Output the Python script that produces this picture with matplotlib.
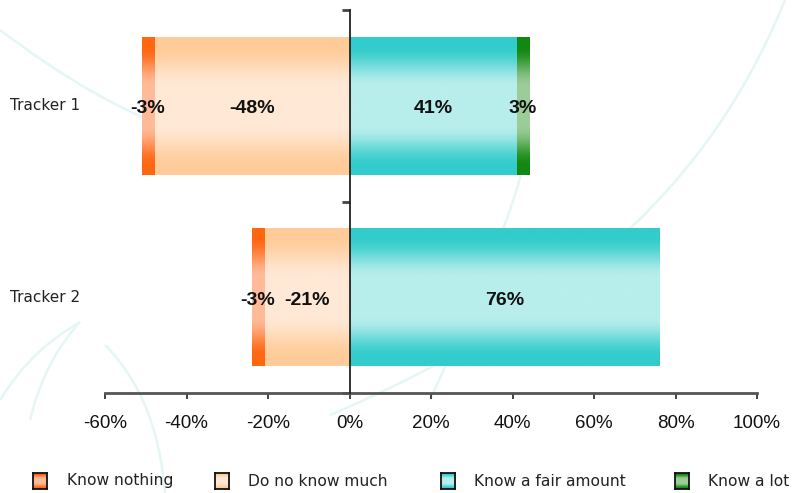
import numpy as np
import matplotlib
matplotlib.use("Agg")
import matplotlib.pyplot as plt
from matplotlib.colors import to_rgb
from matplotlib.path import Path
from matplotlib.patches import PathPatch
import matplotlib.transforms as mtransforms

# ---------------- data ----------------
categories = ["Tracker 1", "Tracker 2"]
know_nothing = [-3, -3]
not_much = [-48, -21]
fair_amount = [41, 76]
know_lot = [3, 0]
series_names = ["Know nothing", "Do no know much", "Know a fair amount", "Know a lot"]
xticks = [-60, -40, -20, 0, 20, 40, 60, 80, 100]
xtick_labels = ["-60%", "-40%", "-20%", "0%", "20%", "40%", "60%", "80%", "100%"]

# gradient colours (edge, centre)
grad = {
    "Know nothing": ("#FF6611", "#FFBB99"),
    "Do no know much": ("#FFCC99", "#FFE8D5"),
    "Know a fair amount": ("#33CCCC", "#B8EEEC"),
    "Know a lot": ("#118811", "#9CCC98"),
}

W, H = 797, 493
fig = plt.figure(figsize=(W / 100, H / 100), dpi=100)
fig.patch.set_facecolor("white")

# ---------------- background watermark ----------------
bg = fig.add_axes([0, 0, 1, 1], zorder=0)
bg.set_xlim(0, W)
bg.set_ylim(H, 0)
bg.axis("off")
wm_col = "#E6F5F5"
curves = [
    [(0, 30), (120, 120), (250, 190), (525, 168)],
    [(785, 0), (720, 160), (600, 300), (330, 415)],
    [(525, 160), (510, 220), (480, 290), (430, 400)],
    [(0, 400), (25, 360), (50, 340), (80, 322)],
    [(80, 322), (55, 350), (40, 380), (30, 420)],
    [(105, 345), (140, 380), (160, 430), (165, 493)],
]
for c in curves:
    p = Path(c, [Path.MOVETO, Path.CURVE4, Path.CURVE4, Path.CURVE4])
    bg.add_patch(PathPatch(p, facecolor="none", edgecolor=wm_col, lw=1.8))


def gradient_rgb(name, n=200):
    e = np.array(to_rgb(grad[name][0]))
    c = np.array(to_rgb(grad[name][1]))
    t = np.linspace(0, 1, n)
    d = np.abs(2 * t - 1)
    f = np.clip((0.88 - d) / 0.6, 0, 1)
    f = f * f * (3 - 2 * f)
    img = e[None, :] + (c - e)[None, :] * f[:, None]
    return img[:, None, :]


# ---------------- main axes ----------------
left = 105 / W
right = 757 / W
top = 1 - 10 / H
bottom = 1 - 393 / H
ax = fig.add_axes([left, bottom, right - left, top - bottom], zorder=2)
ax.patch.set_alpha(0)

ypos = [1.5, 0.5]
bh = 0.72

for i, cat in enumerate(categories):
    y = ypos[i]
    segs = [
        ("Do no know much", 0, not_much[i]),
        ("Know nothing", not_much[i], not_much[i] + know_nothing[i]),
        ("Know a fair amount", 0, fair_amount[i]),
        ("Know a lot", fair_amount[i], fair_amount[i] + know_lot[i]),
    ]
    vals = {"Know nothing": know_nothing[i], "Do no know much": not_much[i],
            "Know a fair amount": fair_amount[i], "Know a lot": know_lot[i]}
    for name, a, b in segs:
        if a == b:
            continue
        x0, x1 = min(a, b), max(a, b)
        ax.imshow(gradient_rgb(name), extent=[x0, x1, y - bh / 2, y + bh / 2],
                  aspect="auto", interpolation="bilinear", zorder=2)
    for name, a, b in segs:
        if a == b:
            continue
        ax.text((a + b) / 2, y - 0.015, f"{vals[name]}%", ha="center", va="center",
                fontsize=14, fontweight="bold", family="Liberation Sans",
                color="#111111", zorder=5)

ax.set_xlim(-60, 100)
ax.set_ylim(0, 2)

# spines
for s in ["top", "right"]:
    ax.spines[s].set_visible(False)
ax.spines["left"].set_position(("data", 0))
ax.spines["left"].set_color("#222222")
ax.spines["left"].set_linewidth(1.3)
ax.spines["left"].set_zorder(6)
ax.spines["bottom"].set_color("#555555")
ax.spines["bottom"].set_linewidth(2)

ax.set_xticks(xticks)
ax.set_xticklabels(xtick_labels, family="Liberation Sans", fontsize=13.5, color="#111111")
ax.tick_params(axis="x", direction="out", length=4, width=1.3, color="#333333", pad=12)
ax.set_yticks([0, 1, 2])
ax.set_yticklabels([])
ax.tick_params(axis="y", direction="out", length=6, width=2, color="#444444")

# category labels
trans = mtransforms.blended_transform_factory(fig.transFigure, ax.transData)
for i, cat in enumerate(categories):
    ax.text(10 / W, ypos[i], cat, transform=trans, ha="left", va="center",
            fontsize=11, family="DejaVu Sans", color="#222222")

# ---------------- legend ----------------
box_x = [33, 215, 441, 675]
text_x = [67, 248, 474, 708]
ly = 481
bs = 16
for k, name in enumerate(series_names):
    lax = fig.add_axes([box_x[k] / W, 1 - (ly + bs / 2) / H, 14 / W, bs / H], zorder=3)
    lax.imshow(gradient_rgb(name), aspect="auto", extent=[0, 1, 0, 1])
    lax.set_xticks([])
    lax.set_yticks([])
    for s in lax.spines.values():
        s.set_color("#111111")
        s.set_linewidth(1.3)
    fig.text(text_x[k] / W, 1 - ly / H, name, ha="left", va="center",
             fontsize=11.2, family="DejaVu Sans", color="#222222")

fig.savefig("out.png", dpi=100)
